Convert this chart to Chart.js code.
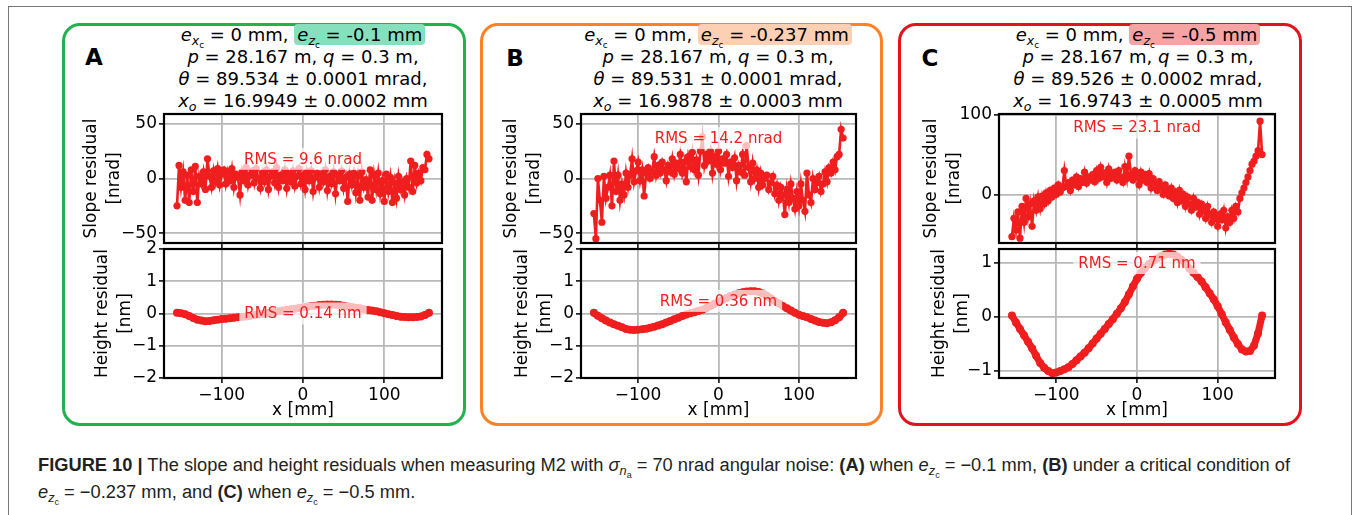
<!DOCTYPE html>
<html>
<head>
<meta charset="utf-8">
<script src="https://cdn.jsdelivr.net/npm/chart.js@4.4.0/dist/chart.umd.min.js"></script>
<style>
body{margin:0;background:#fff;width:1354px;height:515px;overflow:hidden;position:relative;font-family:"DejaVu Sans",sans-serif;color:#000;}
.frame{position:absolute;left:8px;top:6px;width:1344px;height:600px;border:1px solid #777;box-sizing:border-box;}
.panel{position:absolute;top:23px;height:403px;border:3px solid;border-radius:18px;box-sizing:border-box;}
.hdr{position:absolute;top:24px;width:400px;margin-left:-200px;text-align:center;font-size:18px;line-height:22px;white-space:nowrap;}
.hdr sub,.cap sub{font-size:70%;vertical-align:-0.3em;line-height:0;}
.hl{border-radius:4px;padding:0 3px;}
.letter{position:absolute;font-weight:bold;font-size:23px;transform:translate(-50%,-50%);}
canvas{position:absolute;}
.cap{position:absolute;left:38px;font-family:"Liberation Sans Narrow","Liberation Sans",Arial,sans-serif;font-size:18px;line-height:20px;color:#231f20;white-space:nowrap;transform-origin:0 50%;}
</style>
</head>
<body>
<div class="frame"></div>
<div class="panel" style="left:62px;width:404px;border-color:#22b14c"></div>
<div class="panel" style="left:480px;width:403px;border-color:#ff8124"></div>
<div class="panel" style="left:898px;width:404px;border-color:#e3121c"></div>

<div class="letter" style="left:94px;top:57px">A</div>
<div class="letter" style="left:515px;top:58px">B</div>
<div class="letter" style="left:930px;top:58px">C</div>

<div class="hdr" style="left:303px">
<i>e</i><sub><i>x</i><sub>c</sub></sub> = 0 mm, <span class="hl" style="background:#86e0bd"><i>e</i><sub><i>z</i><sub>c</sub></sub> = -0.1 mm</span><br>
<i>p</i> = 28.167 m, <i>q</i> = 0.3 m,<br>
<i>θ</i> = 89.534 ± 0.0001 mrad,<br>
<i>x</i><sub><i>o</i></sub> = 16.9949 ± 0.0002 mm
</div>
<div class="hdr" style="left:718px">
<i>e</i><sub><i>x</i><sub>c</sub></sub> = 0 mm, <span class="hl" style="background:#fdd0b4"><i>e</i><sub><i>z</i><sub>c</sub></sub> = -0.237 mm</span><br>
<i>p</i> = 28.167 m, <i>q</i> = 0.3 m,<br>
<i>θ</i> = 89.531 ± 0.0001 mrad,<br>
<i>x</i><sub><i>o</i></sub> = 16.9878 ± 0.0003 mm
</div>
<div class="hdr" style="left:1138px">
<i>e</i><sub><i>x</i><sub>c</sub></sub> = 0 mm, <span class="hl" style="background:#f6a3a3"><i>e</i><sub><i>z</i><sub>c</sub></sub> = -0.5 mm</span><br>
<i>p</i> = 28.167 m, <i>q</i> = 0.3 m,<br>
<i>θ</i> = 89.526 ± 0.0002 mrad,<br>
<i>x</i><sub><i>o</i></sub> = 16.9743 ± 0.0005 mm
</div>

<canvas id="sA"></canvas><canvas id="hA"></canvas>
<canvas id="sB"></canvas><canvas id="hB"></canvas>
<canvas id="sC"></canvas><canvas id="hC"></canvas>

<div class="cap" id="cap1" style="top:455px"><b>FIGURE 10 |</b> The slope and height residuals when measuring M2 with <i>σ</i><sub><i>n</i><sub>a</sub></sub> = 70 nrad angular noise: <b>(A)</b> when <i>e</i><sub><i>z</i><sub>c</sub></sub> = −0.1 mm, <b>(B)</b> under a critical condition of</div>
<div class="cap" id="cap2" style="top:482px"><i>e</i><sub><i>z</i><sub>c</sub></sub> = −0.237 mm, and <b>(C)</b> when <i>e</i><sub><i>z</i><sub>c</sub></sub> = −0.5 mm.</div>

<script>
// x positions (mm)
const xSlope = [-155,-152.5,-150,-147.5,-145,-142.5,-140,-137.5,-135,-132.5,-130,-127.5,-125,-122.5,-120,-117.5,-115,-112.5,-110,-107.5,
  -105,-102.5,-100,-97.5,-95,-92.5,-90,-87.5,-85,-82.5,-80,-77.5,-75,-72.5,-70,-67.5,-65,-62.5,-60,-57.5,
  -55,-52.5,-50,-47.5,-45,-42.5,-40,-37.5,-35,-32.5,-30,-27.5,-25,-22.5,-20,-17.5,-15,-12.5,-10,-7.5,
  -5,-2.5,0,2.5,5,7.5,10,12.5,15,17.5,20,22.5,25,27.5,30,32.5,35,37.5,40,42.5,
  45,47.5,50,52.5,55,57.5,60,62.5,65,67.5,70,72.5,75,77.5,80,82.5,85,87.5,90,92.5,
  95,97.5,100,102.5,105,107.5,110,112.5,115,117.5,120,122.5,125,127.5,130,132.5,135,137.5,140,142.5,
  145,147.5,150,152.5,155]
const xHeight = [-155,-150,-145,-140,-135,-130,-125,-120,-115,-110,-105,-100,-95,-90,-85,-80,-75,-70,-65,-60,
  -55,-50,-45,-40,-35,-30,-25,-20,-15,-10,-5,0,5,10,15,20,25,30,35,40,
  45,50,55,60,65,70,75,80,85,90,95,100,105,110,115,120,125,130,135,140,
  145,150,155]

// slope residuals (nrad)
const slopeA = [-25,12,-8,6,-20,3,-22,8,-12,11,
  -22,2,-5,6,-10,18,2,-8,7,-3,
  9,-6,4,8,-5,6,-2,9,-8,4,
  1,-15,6,-2,10,-6,3,7,-4,9,
  0,-9,5,-3,8,-10,2,6,-4,10,
  -8,3,-2,8,-9,4,-3,7,-7,2,
  9,-5,3,-10,6,-2,7,-12,1,5,
  -8,4,-3,8,-11,2,-5,6,-14,3,
  -2,7,-9,1,-21,4,-6,5,-13,2,
  -20,6,-8,-1,-17,8,-20,3,-10,5,
  -14,-2,-21,4,-12,1,-22,-4,-18,2,
  -10,-3,-15,0,-8,16,-12,12,-4,5,
  -2,10,8,22,18]
const slopeB = [-32,-55,0,-20,-40,2,-18,-8,3,-25,
  16,-12,3,-20,-5,-15,5,-8,3,18,
  -3,7,15,-2,8,-16,5,10,0,6,
  20,3,12,5,15,8,-2,12,6,18,
  4,14,9,22,5,15,-3,20,11,24,
  8,17,3,25,38,12,22,16,25,5,
  20,13,25,8,18,14,22,2,15,10,
  19,-2,12,6,22,3,30,10,-3,14,
  0,8,-8,5,-6,0,3,-10,-4,2,
  -14,-6,-20,-8,-15,-33,-10,-22,-5,-18,
  -28,-12,-25,-5,-20,-30,5,-15,-22,0,
  -10,-4,2,-12,-5,6,-3,10,5,15,
  8,20,22,45,37]
const slopeC = [-53,-30,-45,-22,-55,-15,-35,-5,-28,-12,
  -40,-8,-20,-3,-18,-2,-12,2,-8,5,
  -3,8,0,12,3,8,30,10,15,5,
  18,12,22,10,20,15,28,14,22,18,
  25,16,30,20,34,22,27,15,32,20,
  25,28,18,30,22,15,35,20,48,25,
  18,30,22,12,28,18,25,15,26,8,
  20,12,5,16,8,0,12,5,-2,8,
  -5,3,-10,5,-8,0,-15,-3,-12,-20,
  -5,-16,-10,-25,-12,-20,-30,-15,-25,-35,
  -22,-30,-40,-25,-32,-20,-42,-28,-35,-20,
  -30,-15,-22,-5,2,8,15,22,30,38,
  42,48,55,92,50]

// height residuals (nm)
const heightA = [0.02,0.01,-0.02,-0.08,-0.14,-0.19,-0.22,-0.24,-0.23,-0.21,
  -0.19,-0.17,-0.16,-0.15,-0.13,-0.12,-0.1,-0.09,-0.07,-0.05,
  -0.03,-0.01,0.01,0.03,0.05,0.07,0.09,0.11,0.13,0.15,
  0.17,0.19,0.21,0.23,0.24,0.26,0.27,0.28,0.28,0.27,
  0.26,0.24,0.22,0.2,0.18,0.16,0.13,0.11,0.09,0.07,
  0.04,0.01,-0.02,-0.05,-0.08,-0.1,-0.11,-0.12,-0.12,-0.11,
  -0.09,-0.05,0.02]
const heightB = [0.02,-0.07,-0.15,-0.22,-0.28,-0.33,-0.38,-0.43,-0.48,-0.5,
  -0.51,-0.5,-0.49,-0.47,-0.44,-0.41,-0.37,-0.33,-0.28,-0.23,
  -0.18,-0.13,-0.08,-0.03,0.01,0.04,0.08,0.12,0.17,0.23,
  0.3,0.36,0.42,0.48,0.54,0.59,0.63,0.66,0.68,0.69,
  0.69,0.67,0.62,0.55,0.47,0.39,0.31,0.23,0.16,0.09,
  0.02,-0.04,-0.08,-0.12,-0.17,-0.22,-0.26,-0.29,-0.3,-0.27,
  -0.21,-0.12,0.02]
const heightC = [0.03,-0.1,-0.22,-0.34,-0.46,-0.58,-0.72,-0.85,-0.94,-1.0,
  -1.04,-1.03,-1.0,-0.97,-0.93,-0.87,-0.8,-0.73,-0.66,-0.58,
  -0.49,-0.4,-0.31,-0.22,-0.13,-0.04,0.06,0.16,0.28,0.42,
  0.57,0.71,0.82,0.91,0.98,1.04,1.09,1.13,1.16,1.17,
  1.16,1.12,1.06,0.99,0.9,0.82,0.74,0.66,0.55,0.44,
  0.33,0.2,0.05,-0.1,-0.24,-0.38,-0.5,-0.6,-0.64,-0.63,
  -0.53,-0.3,0.03]

// ticks
const xTicks = [-100, 0, 100]
const slopeTicksAB = [-50, 0, 50]
const heightTicksAB = [-2, -1, 0, 1, 2]
const slopeTicksC = [0, 100]
const heightTicksC = [-1, 0, 1]

const rmsText = {
  sA: "RMS = 9.6 nrad", hA: "RMS = 0.14 nm",
  sB: "RMS = 14.2 nrad", hB: "RMS = 0.36 nm",
  sC: "RMS = 23.1 nrad", hC: "RMS = 0.71 nm"
}

const RED = "#f01e1e"
const FONT = "'DejaVu Sans', sans-serif"
const minus = v => v < 0 ? "\u2212" + Math.abs(v) : "" + v

// frame + white face + RMS label
const axesBox = {
  id: "axesBox",
  beforeDraw(chart) {
    const a = chart.chartArea, ctx = chart.ctx
    ctx.save()
    ctx.fillStyle = "#fff"
    ctx.fillRect(a.left, a.top, a.right - a.left, a.bottom - a.top)
    ctx.restore()
  },
  afterDatasetsDraw(chart) {
    const a = chart.chartArea, ctx = chart.ctx
    const o = chart.options.plugins.axesBox
    ctx.save()
    const px = chart.scales.x.getPixelForValue(o.x)
    const py = chart.scales.y.getPixelForValue(o.y)
    ctx.font = "15px " + FONT
    const w = ctx.measureText(o.text).width
    ctx.fillStyle = "rgba(255,255,255,0.7)"
    ctx.fillRect(px - w / 2 - 5, py - 11, w + 10, 22)
    ctx.fillStyle = RED
    ctx.textAlign = "center"
    ctx.textBaseline = "middle"
    ctx.fillText(o.text, px, py + 1)
    ctx.strokeStyle = "#000"
    ctx.lineWidth = 2.2
    ctx.strokeRect(a.left, a.top, a.right - a.left, a.bottom - a.top)
    ctx.restore()
  }
}

function plot(id, g, xs, ys, yTicks, yMin, yMax, title, rmsY, bottom) {
  const c = document.getElementById(id)
  const xh = bottom ? 43 : 6
  c.width = g.yw + g.w + 10
  c.height = 10 + 129 + xh
  c.style.left = (g.left - g.yw) + "px"
  c.style.top = (g.top - 10) + "px"
  const grid = { color: "#b8b8b8", lineWidth: 1.8, tickColor: "#000", tickLength: 5, tickWidth: 1.5 }
  new Chart(c, {
    type: "line",
    data: {
      datasets: [{
        data: xs.map((x, i) => ({ x: x, y: ys[i] })),
        borderColor: RED,
        backgroundColor: RED,
        pointBackgroundColor: RED,
        borderWidth: bottom ? 7 : 2.6,
        pointRadius: bottom ? 4 : 3.6,
        pointBorderWidth: 0,
        tension: 0
      }]
    },
    options: {
      responsive: false,
      animation: false,
      events: [],
      layout: { padding: { top: 10, right: 10, left: 0, bottom: 0 } },
      plugins: {
        legend: { display: false },
        tooltip: { enabled: false },
        axesBox: { text: rmsText[id], x: 0, y: rmsY }
      },
      scales: {
        x: {
          type: "linear", min: -171, max: 171,
          afterBuildTicks: s => { s.ticks = xTicks.map(v => ({ value: v })) },
          afterFit: s => { s.height = xh; s.paddingLeft = 0; s.paddingRight = 0 },
          grid: grid,
          border: { display: false },
          ticks: { display: bottom, padding: 2, color: "#000", font: { family: FONT, size: 17 }, callback: minus },
          title: { display: bottom, text: "x [mm]", color: "#000", padding: 0, font: { family: FONT, size: 17 } }
        },
        y: {
          type: "linear", min: yMin, max: yMax,
          afterBuildTicks: s => { s.ticks = yTicks.map(v => ({ value: v })) },
          afterFit: s => { s.width = g.yw; s.paddingTop = 0; s.paddingBottom = 0 },
          grid: grid,
          border: { display: false },
          ticks: { padding: 2, color: "#000", font: { family: FONT, size: 17 }, callback: minus },
          title: { display: true, text: title, color: "#000", padding: 0, font: { family: FONT, size: 17, lineHeight: 1.3 } }
        }
      }
    },
    plugins: [axesBox]
  })
}

const slopeTitle = ["Slope residual", "[nrad]"]
const heightTitle = ["Height residual", "[nm]"]

plot("sA", { left: 164, w: 278, top: 114, yw: 83 }, xSlope, slopeA, slopeTicksAB, -59, 59, slopeTitle, 18, false)
plot("hA", { left: 164, w: 278, top: 249, yw: 72 }, xHeight, heightA, heightTicksAB, -2, 2, heightTitle, 0, true)
plot("sB", { left: 581, w: 275, top: 114, yw: 80 }, xSlope, slopeB, slopeTicksAB, -59, 59, slopeTitle, 37, false)
plot("hB", { left: 581, w: 275, top: 249, yw: 69 }, xHeight, heightB, heightTicksAB, -2, 2, heightTitle, 0.39, true)
plot("sC", { left: 999, w: 276, top: 114, yw: 78 }, xSlope, slopeC, slopeTicksC, -61, 101, slopeTitle, 84, false)
plot("hC", { left: 999, w: 276, top: 249, yw: 70 }, xHeight, heightC, heightTicksC, -1.13, 1.26, heightTitle, 1.0, true)

// caption: stretch line 1 to the width it has in the figure
const cap1 = document.getElementById("cap1"), cap2 = document.getElementById("cap2")
const k = 1252 / cap1.getBoundingClientRect().width
cap1.style.transform = cap2.style.transform = "scaleX(" + k + ")"
</script>
</body>
</html>
